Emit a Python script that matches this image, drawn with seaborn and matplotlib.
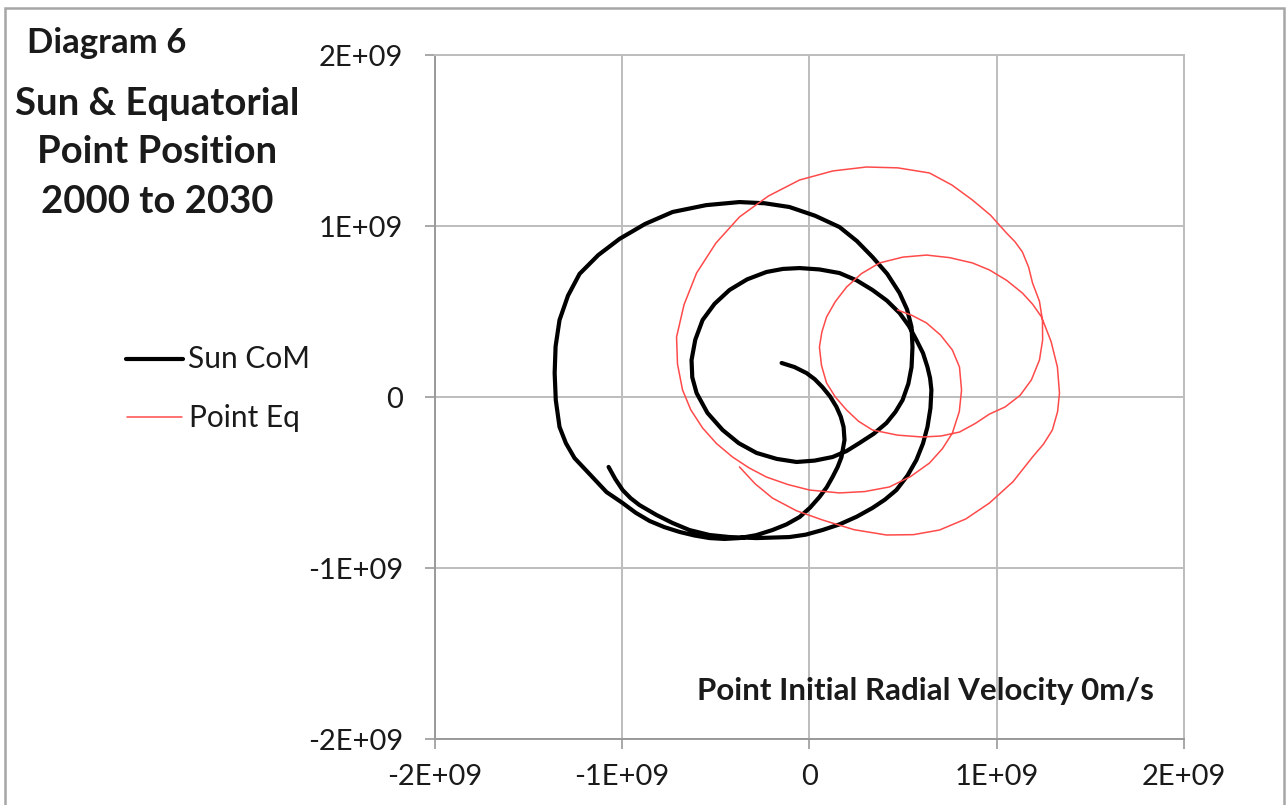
import numpy as np
import pandas as pd
import matplotlib
matplotlib.use("Agg")
import matplotlib.pyplot as plt
from matplotlib.lines import Line2D
from matplotlib.patches import Rectangle
import seaborn as sns

# Positions in units of 1E+09
sun_x = [-1.073, -1.037, -0.998, -0.955, -0.908, -0.817, -0.731, -0.641, -0.534, -0.427,
         -0.283, -0.107, -0.020, 0.069, 0.160, 0.252, 0.336, 0.403, 0.464, 0.523,
         0.571, 0.606, 0.630, 0.646, 0.651, 0.644, 0.630, 0.606, 0.571, 0.531,
         0.481, 0.413, 0.336, 0.252, 0.160, 0.053, -0.053, -0.142, -0.230, -0.333,
         -0.427, -0.507, -0.571, -0.610, -0.630, -0.626, -0.603, -0.545, -0.464, -0.378,
         -0.283, -0.175, -0.069, 0.027, 0.123, 0.198, 0.267, 0.343, 0.411, 0.459,
         0.497, 0.528, 0.545, 0.550, 0.545, 0.521, 0.481, 0.415, 0.336, 0.253,
         0.160, 0.030, -0.107, -0.240, -0.374, -0.552, -0.731, -0.878, -1.014, -1.128,
         -1.228, -1.290, -1.335, -1.356, -1.361, -1.355, -1.335, -1.301, -1.255, -1.175,
         -1.084, -0.998, -0.928, -0.854, -0.775, -0.694, -0.614, -0.534, -0.454, -0.374,
         -0.285, -0.198, -0.123, -0.053, 0.003, 0.053, 0.092, 0.123, 0.150, 0.171,
         0.187, 0.182, 0.167, 0.144, 0.110, 0.069, 0.028, -0.016, -0.080, -0.149]
sun_y = [-0.409, -0.480, -0.544, -0.592, -0.632, -0.690, -0.737, -0.778, -0.807, -0.819,
         -0.825, -0.819, -0.805, -0.778, -0.745, -0.700, -0.649, -0.600, -0.544, -0.460,
         -0.368, -0.272, -0.175, -0.065, 0.041, 0.110, 0.175, 0.257, 0.333, 0.415,
         0.491, 0.564, 0.626, 0.682, 0.725, 0.746, 0.754, 0.749, 0.731, 0.688,
         0.626, 0.545, 0.450, 0.335, 0.216, 0.115, 0.023, -0.093, -0.193, -0.270,
         -0.327, -0.362, -0.380, -0.372, -0.351, -0.316, -0.269, -0.215, -0.152, -0.087,
         -0.018, 0.078, 0.175, 0.292, 0.409, 0.512, 0.608, 0.720, 0.819, 0.912,
         0.994, 1.060, 1.111, 1.133, 1.140, 1.122, 1.082, 1.012, 0.925, 0.830,
         0.720, 0.592, 0.450, 0.296, 0.140, -0.018, -0.175, -0.270, -0.357, -0.450,
         -0.556, -0.620, -0.677, -0.725, -0.761, -0.789, -0.810, -0.825, -0.830, -0.825,
         -0.808, -0.778, -0.745, -0.702, -0.647, -0.585, -0.528, -0.468, -0.410, -0.351,
         -0.251, -0.175, -0.115, -0.058, 0.003, 0.058, 0.104, 0.140, 0.175, 0.199]

eq_x = [-0.374, -0.290, -0.198, -0.070, 0.069, 0.238, 0.411, 0.555, 0.694, 0.835,
        0.961, 1.087, 1.191, 1.250, 1.297, 1.325, 1.335, 1.324, 1.290, 1.239,
        1.192, 1.137, 1.053, 0.961, 0.870, 0.748, 0.625, 0.498, 0.374, 0.278,
        0.198, 0.138, 0.091, 0.066, 0.053, 0.064, 0.091, 0.138, 0.198, 0.262,
        0.336, 0.470, 0.603, 0.703, 0.801, 0.885, 0.961, 1.045, 1.125, 1.185,
        1.228, 1.245, 1.244, 1.228, 1.191, 1.170, 1.137, 1.098, 1.052, 0.967,
        0.870, 0.760, 0.641, 0.472, 0.304, 0.125, -0.053, -0.220, -0.374, -0.500,
        -0.603, -0.670, -0.710, -0.705, -0.678, -0.634, -0.571, -0.497, -0.411, -0.322,
        -0.230, -0.115, 0.000, 0.160, 0.295, 0.427, 0.540, 0.641, 0.710, 0.763,
        0.800, 0.812, 0.801, 0.763, 0.700, 0.625, 0.548, 0.470]
eq_y = [-0.409, -0.508, -0.591, -0.665, -0.719, -0.776, -0.807, -0.805, -0.778, -0.713,
        -0.620, -0.495, -0.351, -0.275, -0.193, -0.085, 0.023, 0.175, 0.325, 0.468,
        0.542, 0.608, 0.682, 0.743, 0.784, 0.815, 0.830, 0.818, 0.784, 0.722,
        0.643, 0.558, 0.468, 0.380, 0.292, 0.185, 0.082, 0.000, -0.076, -0.142,
        -0.193, -0.223, -0.234, -0.228, -0.205, -0.155, -0.100, -0.058, 0.010, 0.100,
        0.216, 0.333, 0.450, 0.560, 0.667, 0.760, 0.848, 0.907, 0.959, 1.063,
        1.152, 1.240, 1.310, 1.340, 1.345, 1.322, 1.269, 1.175, 1.053, 0.900,
        0.725, 0.540, 0.351, 0.193, 0.041, -0.075, -0.181, -0.272, -0.351, -0.415,
        -0.468, -0.512, -0.544, -0.561, -0.553, -0.526, -0.465, -0.386, -0.302, -0.211,
        -0.085, 0.041, 0.175, 0.275, 0.362, 0.433, 0.477, 0.509]

series_names = ["Sun CoM", "Point Eq"]
tick_values = [-2e9, -1e9, 0, 1e9, 2e9]
tick_labels = ["-2E+09", "-1E+09", "0", "1E+09", "2E+09"]
title_lines = ["Sun & Equatorial", "Point Position", "2000 to 2030"]

sun = pd.DataFrame({"x": np.array(sun_x) * 1e9, "y": np.array(sun_y) * 1e9})
eq = pd.DataFrame({"x": np.array(eq_x) * 1e9, "y": np.array(eq_y) * 1e9})

sns.set_style("white")
plt.rcParams["font.family"] = ["Lato", "DejaVu Sans"]

W, H = 1286, 805
fig = plt.figure(figsize=(W / 100, H / 100), dpi=100)
ax = fig.add_axes([435 / W, 1 - 739 / H, (1184 - 435) / W, (739 - 55) / H])

grid_col = "#bdbdbd"
red = "#ff4a4a"
sns.lineplot(data=sun, x="x", y="y", sort=False, estimator=None, color="black",
             linewidth=3.0, ax=ax, zorder=3, solid_joinstyle="round",
             solid_capstyle="round")
sns.lineplot(data=eq, x="x", y="y", sort=False, estimator=None, color=red,
             linewidth=1.1, ax=ax, zorder=4, solid_joinstyle="round")

ax.set_xlim(-2e9, 2e9)
ax.set_ylim(-2e9, 2e9)
ax.set_xticks(tick_values)
ax.set_yticks(tick_values)
ax.set_xticklabels(tick_labels, fontsize=21)
ax.set_yticklabels(tick_labels, fontsize=21)
ax.set_xlabel("")
ax.set_ylabel("")
ax.grid(True, color=grid_col, linewidth=1.4)
ax.set_axisbelow(True)
for s in ax.spines.values():
    s.set_color(grid_col)
    s.set_linewidth(1.4)
ax.spines["left"].set_color("#9a9a9a")
ax.spines["bottom"].set_color("#9a9a9a")
ax.tick_params(axis="both", direction="out", length=7, width=1.2, color="#9a9a9a",
               colors="#1a1a1a")
ax.tick_params(axis="y", pad=16, left=True)
ax.tick_params(axis="x", pad=11, bottom=True)

fig.text(697 / W, 1 - 700 / H, "Point Initial Radial Velocity 0m/s", fontsize=22.5,
         fontweight="bold", ha="left", va="baseline", color="#1a1a1a")

# title block
fig.text(27 / W, 1 - 53 / H, "Diagram 6", fontsize=25, fontweight="bold",
         ha="left", va="baseline", color="#1a1a1a")
for line, base in zip(title_lines, [115, 163, 213]):
    fig.text(157 / W, 1 - base / H, line, fontsize=27.5, fontweight="bold",
             ha="center", va="baseline", color="#1a1a1a")

# legend
fig.add_artist(Line2D([126 / W, 183 / W], [1 - 359 / H, 1 - 359 / H], color="black",
                      linewidth=3.0, transform=fig.transFigure))
fig.text(188 / W, 1 - 368 / H, series_names[0], fontsize=21.5, ha="left", va="baseline",
         color="#1a1a1a")
fig.add_artist(Line2D([127 / W, 182 / W], [1 - 417 / H, 1 - 417 / H], color=red,
                      linewidth=1.1, transform=fig.transFigure))
fig.text(189 / W, 1 - 427 / H, series_names[1], fontsize=21.5, ha="left", va="baseline",
         color="#1a1a1a")

# chart area border
fig.add_artist(Rectangle((5 / W, -0.05), (1284 - 5) / W, 1.05 - 8 / H, fill=False,
                         edgecolor="#a6a6a6", linewidth=1.8, transform=fig.transFigure))

fig.savefig("out.png", dpi=100, facecolor="white")
